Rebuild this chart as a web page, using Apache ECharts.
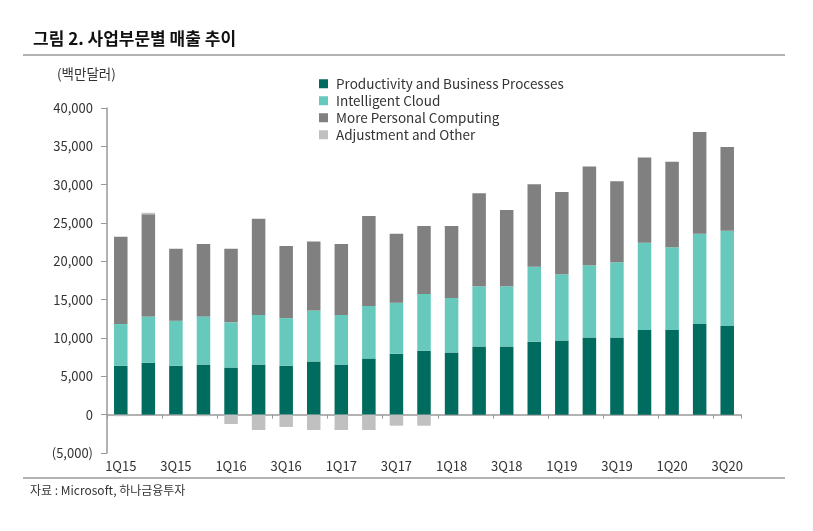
<!DOCTYPE html>
<html><head><meta charset="utf-8">
<script src="https://cdn.jsdelivr.net/npm/echarts@6/dist/echarts.min.js"></script>
<style>html,body{margin:0;padding:0;background:#fff}#c{width:813px;height:531px}</style>
</head><body><div id="c"></div>
<script>
const categories = ['1Q15','2Q15','3Q15','4Q15','1Q16','2Q16','3Q16','4Q16','1Q17','2Q17','3Q17','4Q17','1Q18','2Q18','3Q18','4Q18','1Q19','2Q19','3Q19','4Q19','1Q20','2Q20','3Q20'];
const productivity = [6370,6760,6370,6540,6150,6540,6370,6940,6540,7330,7940,8330,8110,8900,8900,9510,9680,10080,10080,11040,11040,11820,11560];
const cloud = [5450,6060,5890,6280,5890,6460,6230,6660,6460,6850,6670,7420,7110,7850,7850,9770,8640,9420,9810,11380,10810,11780,12430];
const personal = [11380,13310,9380,9430,9600,12560,9400,9000,9250,11720,8990,8850,9380,12130,9950,10770,10730,12870,10560,11120,11130,13260,10910];
const adjustment = [-200,200,-100,-200,-1220,-2000,-1600,-2000,-2000,-2000,-1440,-1440,0,0,0,0,0,0,0,0,0,0,0];
const seriesNames = ['Productivity and Business Processes','Intelligent Cloud','More Personal Computing','Adjustment and Other'];
const yTicks = {min:-5000, max:40000, interval:5000};

const colors = ['#006B5F','#66C9BC','#808080','#C0C0C0'];
const font = '"Noto Sans CJK KR", "Noto Sans", sans-serif';
const chart = echarts.init(document.getElementById('c'));
const fmt = v => v < 0 ? '(' + Math.abs(v).toLocaleString('en-US') + ')' : v.toLocaleString('en-US');
const mk = (name, data, i) => ({
  name, type:'bar', stack:'total', data, barWidth:'49%',
  itemStyle:{color:colors[i]}, xAxisIndex:0, yAxisIndex:0
});
chart.setOption({
  animation:false,
  textStyle:{fontFamily:font},
  grid:{left:107, right:72, top:108, bottom:78},
  legend:{
    orient:'vertical', left:314, top:72, itemWidth:9, itemHeight:9, itemGap:3.5,
    icon:'rect', data:seriesNames,
    textStyle:{fontSize:13.5, color:'#333', fontFamily:font, padding:[0,0,0,3]}
  },
  xAxis:[{
    type:'category', data:categories,
    axisLine:{onZero:true, lineStyle:{color:'#999', width:1.5}},
    axisTick:{show:true, length:4, lineStyle:{color:'#999'}},
    axisLabel:{show:false}
  },{
    type:'category', data:categories, position:'bottom',
    axisLine:{show:false}, axisTick:{show:false},
    axisLabel:{interval:1, fontSize:13, color:'#333', margin:7, fontFamily:font}
  }],
  yAxis:[{
    type:'value', min:yTicks.min, max:yTicks.max, interval:yTicks.interval,
    splitLine:{show:false},
    axisLine:{show:true, lineStyle:{color:'#999', width:1.5}},
    axisTick:{show:true, length:6, lineStyle:{color:'#999'}},
    axisLabel:{formatter:fmt, fontSize:13, color:'#333', margin:14, fontFamily:font}
  }],
  series:[
    mk(seriesNames[0], productivity, 0),
    mk(seriesNames[1], cloud, 1),
    mk(seriesNames[2], personal, 2),
    mk(seriesNames[3], adjustment, 3)
  ],
  graphic:[
    {type:'text', left:33, top:30, style:{text:'그림 2. 사업부문별 매출 추이', font:'bold 17px "Noto Sans CJK KR"', fill:'#111'}},
    {type:'line', shape:{x1:23, y1:55, x2:785, y2:55}, style:{stroke:'#999', lineWidth:1.5}},
    {type:'text', left:57, top:67, style:{text:'(백만달러)', font:'13.5px "Noto Sans CJK KR"', fill:'#333'}},
    {type:'line', shape:{x1:23, y1:478, x2:785, y2:478}, style:{stroke:'#999', lineWidth:1.5}},
    {type:'text', left:30, top:484, style:{text:'자료 : Microsoft, 하나금융투자', font:'12px "Noto Sans CJK KR"', fill:'#333'}}
  ]
});
</script></body></html>
